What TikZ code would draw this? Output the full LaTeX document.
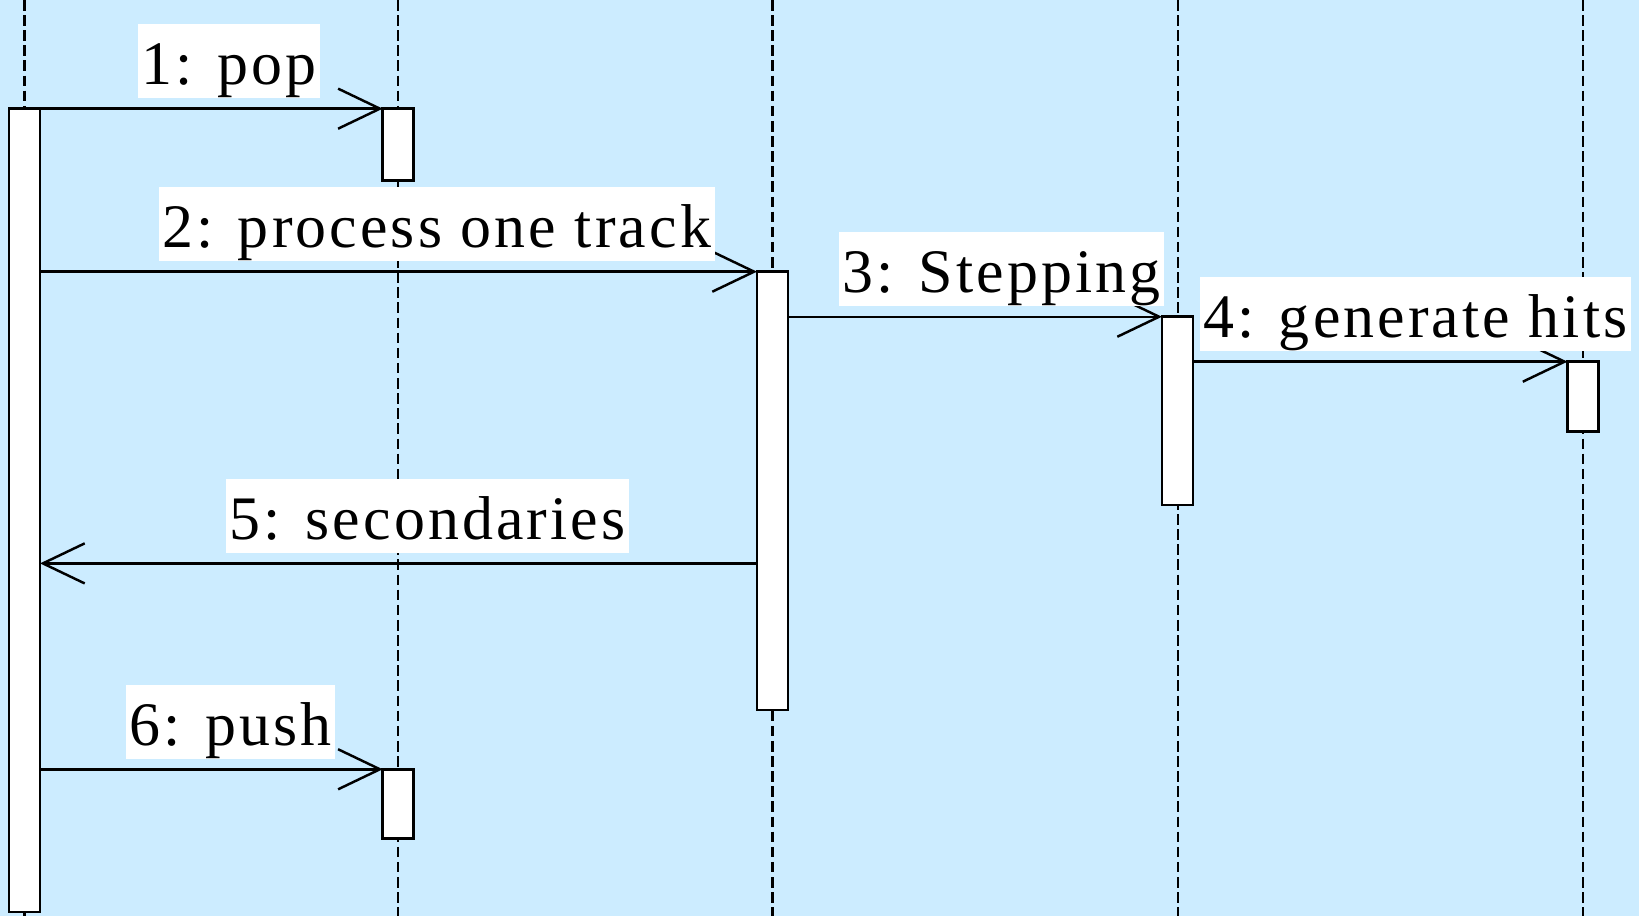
\documentclass[tikz,border=0pt]{standalone}
\usepackage{fontspec}
\usetikzlibrary{arrows.meta}
\newfontfamily\lblfont{Liberation Serif}[LetterSpace=5]
\definecolor{bgblue}{RGB}{204,236,255}

\begin{document}
\begin{tikzpicture}[x=0.01cm,y=-0.01cm,
    lifeline/.style={line width=0.6pt,dash pattern=on 3pt off 1.3pt},
    act/.style={draw,fill=white,line width=0.75pt,minimum width=0.31cm,inner sep=0pt,outer sep=0pt},
    msg/.style={line width=0.7pt,-{Straight Barb[length=11.9pt,width=11.4pt,line width=0.7pt]}},
    lbl/.style={fill=white,inner xsep=1pt,inner ysep=0pt,text height=17.3pt,text depth=3.8pt,
                font=\lblfont\fontsize{17.6}{20}\selectfont,midway,above=2.6pt}]
    % Background and frame
    \fill[bgblue] (0,0) rectangle (1639,916);
    \useasboundingbox (0,0) rectangle (1639,916);

    % Lifelines
    \foreach \i/\x in {1/24.5,2/398,3/772.5,4/1178,5/1583} {
      \coordinate (top\i) at (\x,0);
      \coordinate (bot\i) at (\x,916);
      \draw[lifeline] (top\i) -- (bot\i);
    }

    % Activation boxes
    \node[act,minimum height=8.03cm] (actA) at (24.5,510.1) {};
    \node[act,minimum height=0.72cm] (actB) at (398.3,144.7) {};
    \node[act,minimum height=4.38cm] (actC) at (772.5,490.8) {};
    \node[act,minimum height=1.88cm] (actD) at (1177.5,410.8) {};
    \node[act,minimum height=0.70cm] (actE) at (1583,396.7) {};
    \node[act,minimum height=0.69cm] (actF) at (398.3,803.8) {};
    \coordinate (ret) at (772.5,563.4);

    % Messages
    \draw[msg] (actA.east |- actB.north) -- (actB.north west)
      node[lbl,xshift=0.18cm] {1: pop};
    \draw[msg] (actA.east |- actC.north) -- (actC.north west)
      node[lbl,xshift=0.38cm] {2: process one track};
    \draw[msg] (actC.east |- actD.north) -- (actD.north west)
      node[lbl,xshift=0.265cm] {3: Stepping};
    \draw[msg] (actD.east |- actE.north) -- (actE.north west)
      node[lbl,xshift=0.35cm] {4: generate hits};
    \draw[msg] (actC.west |- ret) -- (actA.east |- ret)
      node[lbl,xshift=0.29cm] {5: secondaries};
    \draw[msg] (actA.east |- actF.north) -- (actF.north west)
      node[lbl,xshift=0.19cm] {6: push};
  \end{tikzpicture}
\end{document}
